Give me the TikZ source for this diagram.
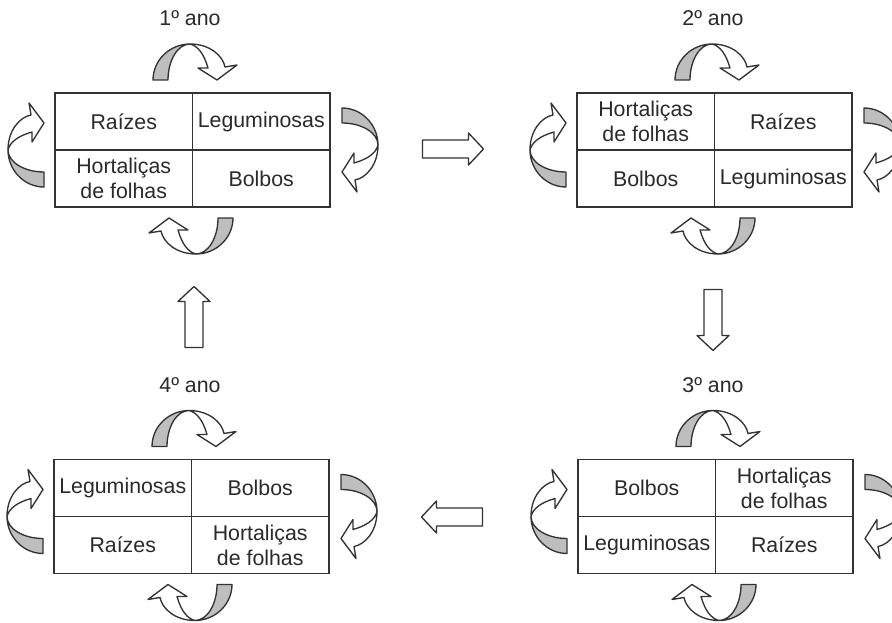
\documentclass[tikz,border=0pt]{standalone}
\usepackage{fontspec}
\setmainfont{Liberation Sans}
\definecolor{ln}{HTML}{333333}
\definecolor{gr}{HTML}{BEBEBE}
\definecolor{tx}{HTML}{2A2A2A}
\tikzset{
  box/.style={draw=ln, line width=1.3pt, rectangle, minimum width=206.25pt, minimum height=85.5pt, inner sep=0pt, outer sep=0pt},
  boxline/.style={draw=ln, line width=1.3pt},
  cell/.style={text=tx, align=center, inner sep=0pt, font=\fontsize{16}{18.75}\selectfont},
  title/.style={text=tx, inner sep=0pt, font=\fontsize{16}{18.75}\selectfont},
  arrline/.style={draw=ln, line width=1pt, line join=round},
  twist/.pic={
    \path[arrline, fill=gr] (-37,0) .. controls (-37,-20) and (-20,-36) .. (0,-36)
       .. controls (-12,-36) and (-22,-20) .. (-22,0) -- cycle;
    \path[arrline, fill=white] (0,-36) .. controls (20,-36) and (33,-24) .. (35,-13)
       -- (47,-15) -- (27,0) -- (8,-12) -- (18,-12)
       .. controls (14,-26) and (8,-34) .. (0,-36) -- cycle;
  },
  bigarr/.pic={
    \path[arrline, fill=white] (-30,-9) -- (16,-9) -- (16,-16) -- (31,0) -- (16,16) -- (16,9) -- (-30,9) -- cycle;
  },
}
\newcommand\cropbox[7]{%
  \node[box] (#1) at (#2,#3) {};
  \draw[boxline] (#1.north) -- (#1.south);
  \draw[boxline] (#1.west) -- (#1.east);
  \node[cell] (#1tl) at ([shift={(-68.75,-28.5)}]#1.center) {#4};
  \node[cell] (#1tr) at ([shift={(68.75,-28.5)}]#1.center) {#5};
  \node[cell] (#1bl) at ([shift={(-68.75,28.5)}]#1.center) {#6};
  \node[cell] (#1br) at ([shift={(68.75,28.5)}]#1.center) {#7};
  \pic[rotate=0] (#1at) at ([shift={(-2.5,-70)}]#1.center) {twist};
  \pic[rotate=-90] (#1ar) at ([shift={(149.5,-5)}]#1.center) {twist};
  \pic[rotate=180] (#1ab) at ([shift={(3.5,68)}]#1.center) {twist};
  \pic[rotate=90] (#1al) at ([shift={(-148.5,0)}]#1.center) {twist};
}
\begin{document}
\begin{tikzpicture}[x=0.75pt, y=-0.75pt]
\useasboundingbox (0,0) rectangle (892,623);
\clip (0,0) rectangle (892,623);
\fill[white] (0,0) rectangle (892,623);

\node[title] (t1) at (190,18) {1º ano};
\node[title] (t2) at (713,18) {2º ano};
\node[title] (t4) at (190,385) {4º ano};
\node[title] (t3) at (713,385) {3º ano};

\cropbox{b1}{192.5}{150}{Raízes}{Leguminosas}{Hortaliças\\de folhas}{Bolbos}
\cropbox{b2}{714.5}{150}{Hortaliças\\de folhas}{Raízes}{Bolbos}{Leguminosas}
\cropbox{b3}{715.5}{516.5}{Bolbos}{Hortaliças\\de folhas}{Leguminosas}{Raízes}
\cropbox{b4}{191.5}{516.5}{Leguminosas}{Bolbos}{Raízes}{Hortaliças\\de folhas}

\pic (a12) at (452.5,149) {bigarr};
\pic[rotate=-90] (a23) at (713,319.5) {bigarr};
\pic[rotate=180] (a34) at (452.5,517) {bigarr};
\pic[rotate=90] (a41) at (194,317.5) {bigarr};
\end{tikzpicture}
\end{document}
